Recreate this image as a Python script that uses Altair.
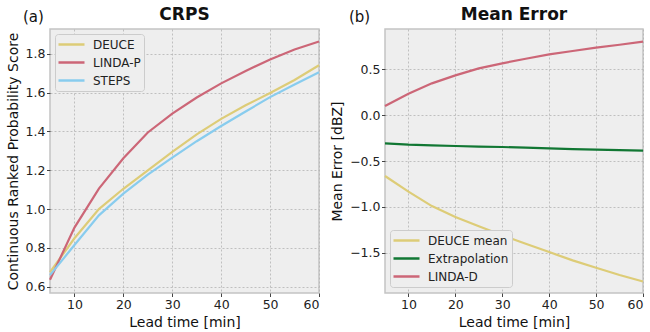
import altair as alt
import pandas as pd

# Lead times (minutes)
lead = [5, 10, 15, 20, 25, 30, 35, 40, 45, 50, 55, 60]

# CRPS per model
crps_deuce = [0.675, 0.85, 1.0, 1.105, 1.2, 1.295, 1.385, 1.465, 1.535, 1.598, 1.665, 1.741]
crps_linda_p = [0.636, 0.905, 1.106, 1.262, 1.395, 1.492, 1.575, 1.648, 1.712, 1.771, 1.822, 1.864]
crps_steps = [0.66, 0.815, 0.968, 1.08, 1.178, 1.265, 1.35, 1.428, 1.503, 1.577, 1.642, 1.705]

# Mean error [dBZ] per model
me_deuce_mean = [-0.663, -0.833, -0.99, -1.109, -1.21, -1.308, -1.40, -1.49, -1.58, -1.66, -1.74, -1.81]
me_extrapolation = [-0.308, -0.322, -0.33, -0.337, -0.343, -0.348, -0.355, -0.362, -0.37, -0.377, -0.382, -0.388]
me_linda_d = [0.098, 0.232, 0.344, 0.431, 0.507, 0.562, 0.612, 0.659, 0.696, 0.732, 0.764, 0.797]

crps_models = ["DEUCE", "LINDA-P", "STEPS"]
crps_colors = ["#DDCC77", "#CC6677", "#88CCEE"]
me_models = ["DEUCE mean", "Extrapolation", "LINDA-D"]
me_colors = ["#DDCC77", "#117733", "#CC6677"]

x_ticks = [10, 20, 30, 40, 50, 60]
crps_ticks = [0.6, 0.8, 1.0, 1.2, 1.4, 1.6, 1.8]
me_ticks = [-1.5, -1.0, -0.5, 0.0, 0.5]

FONT = "DejaVu Sans"


def long_table(series, names):
    rows = []
    for name, vals in zip(names, series):
        for t, v in zip(lead, vals):
            rows.append({"lead": t, "value": v, "model": name})
    return pd.DataFrame(rows)


def panel(df, names, colors, ydomain, yticks, ytitle, title, tag, tag_x, width, legend_y):
    lines = alt.Chart(df).mark_line(strokeWidth=2.2).encode(
        x=alt.X("lead:Q",
                scale=alt.Scale(domain=[5, 60], nice=False, zero=False),
                axis=alt.Axis(values=x_ticks, title="Lead time [min]")),
        y=alt.Y("value:Q",
                scale=alt.Scale(domain=ydomain, nice=False, zero=False),
                axis=alt.Axis(values=yticks, format=".1f", title=ytitle)),
        color=alt.Color("model:N",
                        scale=alt.Scale(domain=names, range=colors),
                        legend=alt.Legend(
                            title=None, orient="none", legendX=5, legendY=legend_y,
                            symbolType="stroke", symbolSize=676, symbolStrokeWidth=2.4,
                            symbolOffset=-1, clipHeight=15, rowPadding=3, padding=3,
                            labelOffset=7, labelFontSize=12, labelFont=FONT,
                            labelColor="#222222", fillColor="#eeeeee",
                            strokeColor="#cccccc", cornerRadius=3)),
    )
    label = alt.Chart(pd.DataFrame({"t": [tag]})).mark_text(
        align="left", baseline="alphabetic", fontSize=15, font=FONT, color="#111111"
    ).encode(x=alt.value(tag_x), y=alt.value(-7), text="t:N")
    return alt.layer(lines, label).properties(
        width=width, height=264,
        title=alt.TitleParams(title, fontSize=17, fontWeight="bold", font=FONT,
                              color="#111111", offset=3, frame="group", dy=17),
    )


left = panel(long_table([crps_deuce, crps_linda_p, crps_steps], crps_models),
             crps_models, crps_colors, [0.568, 1.928], crps_ticks,
             "Continuous Ranked Probability Score", "CRPS", "(a)", -27, 269, 5)
right = panel(long_table([me_deuce_mean, me_extrapolation, me_linda_d], me_models),
              me_models, me_colors, [-1.935, 0.935], me_ticks,
              "Mean Error [dBZ]", "Mean Error", "(b)", -36, 258, 201)

chart = alt.hconcat(left, right, spacing=66, bounds="flush").resolve_scale(
    color="independent"
).resolve_legend(color="independent").properties(
    padding={"left": 5, "top": 5, "right": 0, "bottom": 0},
    background="white",
).configure_view(
    fill="#eeeeee", stroke="#c4c4c4", strokeWidth=1.5
).configure_axis(
    domain=False, grid=True, gridColor="#b2b2b2", gridDash=[2, 2], gridWidth=0.8,
    tickColor="#444444", tickSize=3.5, tickWidth=1,
    labelFont=FONT, labelFontSize=12.5, labelColor="#222222", labelPadding=1.5,
    titleFont=FONT, titleFontSize=14, titleFontWeight="normal", titleColor="#111111",
    titlePadding=5,
)

chart.save("out.html", embed_options={"renderer": "svg", "actions": False})
